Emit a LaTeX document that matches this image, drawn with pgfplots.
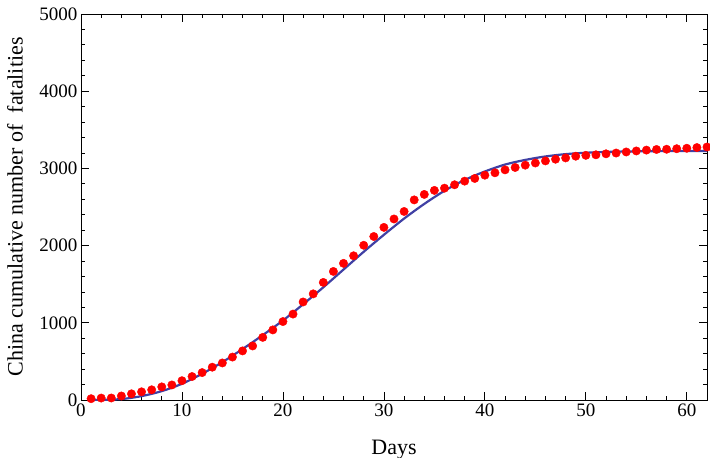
\documentclass[border=0pt]{standalone}
\usepackage{fontspec}
\setmainfont{Liberation Serif}
\usepackage{pgfplots}
\pgfplotsset{compat=1.18}

\definecolor{fitblue}{RGB}{64,64,164}
\definecolor{dotred}{RGB}{255,0,0}

% cumulative fatalities, day 1..62
\pgfplotstableread{
day deaths
1 17
2 25
3 26
4 52
5 80
6 106
7 132
8 170
9 195
10 250
11 304
12 355
13 425
14 480
15 556
16 636
17 700
18 811
19 908
20 1016
21 1113
22 1270
23 1375
24 1523
25 1665
26 1770
27 1868
28 2004
29 2118
30 2236
31 2345
32 2442
33 2592
34 2663
35 2715
36 2744
37 2788
38 2835
39 2870
40 2912
41 2943
42 2981
43 3012
44 3042
45 3070
46 3097
47 3119
48 3136
49 3158
50 3169
51 3176
52 3189
53 3199
54 3213
55 3226
56 3237
57 3245
58 3248
59 3255
60 3261
61 3270
62 3277
}\chinadata

% fitted curve
\pgfplotstableread{
day fit
1 0
2 2
4 12
6 50
8 115
10 210
12 340
14 490
16 660
18 840
20 1030
22 1240
24 1460
26 1690
28 1920
30 2140
32 2350
34 2540
36 2710
38 2850
40 2960
42 3050
44 3110
46 3155
48 3185
50 3203
52 3213
54 3219
56 3222
58 3224
60 3225
62 3226
}\fitdata

\begin{document}
\begin{tikzpicture}
\begin{axis}[
  name=ax,
  scale only axis,
  width=626bp, height=386bp,
  xmin=0, xmax=62, ymin=0, ymax=5000,
  xtick={0,10,...,60},
  ytick={0,1000,...,5000},
  minor x tick num=4,
  minor y tick num=4,
  tick align=inside,
  major tick length=8bp,
  minor tick length=4bp,
  axis line style={line width=0.9bp},
  every tick/.style={black, line width=0.8bp},
  scaled y ticks=false,
  /pgf/number format/1000 sep={},
  /pgf/number format/assume math mode=true,
  tick label style={font=\fontsize{19bp}{21bp}\selectfont},
  label style={font=\fontsize{22bp}{24bp}\selectfont},
  xlabel={Days},
  ylabel={China cumulative number of\ \ fatalities},
  xlabel style={at={(axis description cs:0.5,-0.1399)}, anchor=base},
  ylabel style={at={(axis description cs:-0.1054,0.5)}, anchor=center},
  clip=true,
]
\addplot[only marks, mark=*, mark size=4.2bp, dotred, mark options={draw=none, fill=dotred}]
  table[x=day, y=deaths] {\chinadata};
\addplot[fitblue, line width=2.2bp, smooth, no marks] table[x=day, y=fit] {\fitdata};
\end{axis}
\pgfresetboundingbox
\path ([shift={(-81bp,-58bp)}]ax.south west) rectangle ([shift={(3bp,14bp)}]ax.north east);
\end{tikzpicture}
\end{document}
